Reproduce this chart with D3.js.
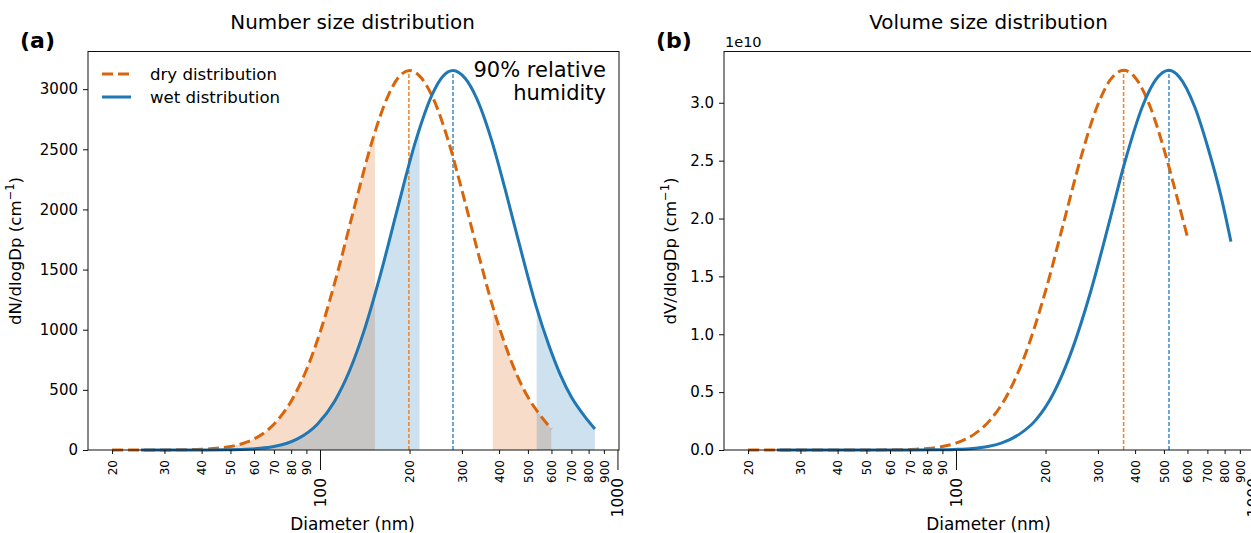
<!DOCTYPE html>
<html>
<head>
<meta charset="utf-8">
<script src="https://cdn.jsdelivr.net/npm/d3@7"></script>
<style>
  body { margin: 0; background: #fff; }
  text { font-family: "DejaVu Sans", sans-serif; fill: #000; }
</style>
</head>
<body>
<svg id="chart" width="1251" height="533"></svg>
<script>
// ---- data ----
const dryDiameter = [20, 25, 30, 35, 40, 45, 50, 55, 60, 70, 80, 90, 100, 115, 130, 150, 170, 185, 200, 220, 240, 270, 300, 340, 380, 420, 460, 500, 550, 600];
const dryNumber   = [0, 0.1, 0.5, 2, 6, 14, 29, 54, 92, 214, 406, 665, 976, 1492, 2003, 2574, 2953, 3108, 3155, 3088, 2925, 2570, 2160, 1640, 1200, 870, 620, 440, 290, 175];

const wetDiameter = [25, 35, 42, 49, 56, 63, 70, 77, 84, 98, 112, 126, 140, 161, 182, 210, 238, 259, 280, 308, 336, 378, 420, 476, 532, 588, 644, 700, 770, 840];
const wetNumber   = [0, 0.1, 0.5, 2, 6, 14, 29, 54, 92, 214, 406, 665, 976, 1492, 2003, 2574, 2953, 3108, 3155, 3088, 2925, 2570, 2160, 1640, 1200, 870, 620, 440, 290, 175];

const dryVolDiameter = [20, 30, 40, 50, 60, 70, 80, 90, 100, 115, 130, 150, 170, 200, 230, 260, 300, 330, 366, 400, 450, 500, 550, 600];
const dryVolume      = [0, 0, 0, 0.0003, 0.0014, 0.0049, 0.0133, 0.0303, 0.0596, 0.135, 0.256, 0.493, 0.809, 1.374, 1.962, 2.482, 2.985, 3.197, 3.28, 3.219, 2.963, 2.601, 2.21, 1.84];

const wetVolDiameter = [25, 43, 57, 71, 85, 99, 114, 128, 142, 163, 185, 213, 241, 284, 327, 369, 426, 469, 520, 565, 635, 705, 775, 840];
const wetVolume      = [0, 0, 0, 0.0003, 0.0014, 0.0049, 0.0133, 0.0303, 0.0596, 0.135, 0.256, 0.493, 0.809, 1.374, 1.962, 2.482, 2.985, 3.197, 3.28, 3.219, 2.963, 2.601, 2.21, 1.80];

const dryNumberMode = 199, wetNumberMode = 280;
const dryVolumeMode = 366, wetVolumeMode = 520;

// shaded diameter ranges (nm) in the number plot
const dryShade = [[20, 153], [381, 600]];
const wetShade = [[25, 216], [535, 840]];

const minorTicks  = [20, 30, 40, 50, 60, 70, 80, 90, 200, 300, 400, 500, 600, 700, 800, 900];
const majorTicks  = [100, 1000];
const numberTicks = [0, 500, 1000, 1500, 2000, 2500, 3000];
const volumeTicks = [0, 0.5, 1.0, 1.5, 2.0, 2.5, 3.0];

// ---- layout ----
const svg = d3.select("#chart");
const ORANGE = "#d9650a", BLUE = "#1f77b4";
const ORANGE_V = "#ec8a35", BLUE_V = "#4d93c8";
const plotTop = 51.5, plotBottom = 450, panelW = 531;

function drawPanel(opt) {
  const x = d3.scaleLog().domain([16.6, 1012]).range([opt.left, opt.left + panelW]);
  const y = d3.scaleLinear().domain([0, opt.yMax]).range([plotBottom, plotTop]);
  const g = svg.append("g");

  const dry = opt.dryD.map((d, i) => ({ d: d, v: opt.dryV[i] }));
  const wet = opt.wetD.map((d, i) => ({ d: d, v: opt.wetV[i] }));

  const line = d3.line().x(p => x(p.d)).y(p => y(p.v)).curve(d3.curveMonotoneX);
  const area = d3.area().x(p => x(p.d)).y0(y(0)).y1(p => y(p.v)).curve(d3.curveMonotoneX);

  // shaded tails
  if (opt.shade) {
    const defs = svg.append("defs");
    const shades = [
      { data: dry, ranges: dryShade, color: ORANGE, id: "dry" },
      { data: wet, ranges: wetShade, color: BLUE, id: "wet" }
    ];
    shades.forEach(s => {
      s.ranges.forEach((r, k) => {
        const id = "clip-" + s.id + k;
        defs.append("clipPath").attr("id", id)
          .append("rect")
          .attr("x", x(r[0])).attr("y", plotTop)
          .attr("width", x(r[1]) - x(r[0])).attr("height", plotBottom - plotTop);
        g.append("path")
          .datum(s.data)
          .attr("d", area)
          .attr("fill", s.color)
          .attr("fill-opacity", 0.22)
          .attr("clip-path", `url(#${id})`);
      });
    });
  }

  // mode lines
  [[opt.dryMode, d3.max(opt.dryV), ORANGE_V], [opt.wetMode, d3.max(opt.wetV), BLUE_V]].forEach(m => {
    g.append("line")
      .attr("x1", x(m[0])).attr("x2", x(m[0]))
      .attr("y1", y(0)).attr("y2", y(m[1]))
      .attr("stroke", m[2]).attr("stroke-width", 1.6)
      .attr("stroke-dasharray", "4,2");
  });

  g.append("path").datum(dry).attr("d", line)
    .attr("fill", "none").attr("stroke", ORANGE).attr("stroke-width", 3)
    .attr("stroke-dasharray", "11,5");
  g.append("path").datum(wet).attr("d", line)
    .attr("fill", "none").attr("stroke", BLUE).attr("stroke-width", 3);

  // frame
  g.append("rect")
    .attr("x", opt.left).attr("y", plotTop)
    .attr("width", panelW).attr("height", plotBottom - plotTop)
    .attr("fill", "none").attr("stroke", "#111").attr("stroke-width", 1);

  // x axis: minor labelled ticks
  const gxMinor = g.append("g").attr("transform", `translate(0,${plotBottom})`)
    .call(d3.axisBottom(x).tickValues(minorTicks).tickSize(4).tickFormat(d3.format("d")));
  gxMinor.select(".domain").remove();
  gxMinor.selectAll("text")
    .attr("transform", "rotate(-90)")
    .attr("x", -10).attr("y", 0).attr("dy", "0.35em")
    .style("text-anchor", "end").style("font-size", "12px");

  const gxMajor = g.append("g").attr("transform", `translate(0,${plotBottom})`)
    .call(d3.axisBottom(x).tickValues(majorTicks).tickSize(20).tickFormat(d3.format("d")));
  gxMajor.select(".domain").remove();
  gxMajor.selectAll("text")
    .attr("transform", "rotate(-90)")
    .attr("x", -28).attr("y", 0).attr("dy", "0.35em")
    .style("text-anchor", "end").style("font-size", "15.5px");

  // y axis
  const gy = g.append("g").attr("transform", `translate(${opt.left},0)`)
    .call(d3.axisLeft(y).tickValues(opt.yTicks).tickSize(5).tickPadding(5).tickFormat(opt.yFormat));
  gy.select(".domain").remove();
  gy.selectAll("text").style("font-size", "15px");
  g.selectAll(".tick line").attr("stroke", "#111");

  // labels
  svg.append("text")
    .attr("x", opt.left + panelW / 2 - 1).attr("y", 29)
    .attr("text-anchor", "middle").style("font-size", "19.9px")
    .text(opt.title);
  svg.append("text")
    .attr("x", opt.left - 68).attr("y", 48)
    .style("font-size", "22px").style("font-weight", "bold")
    .text(opt.tag);
  svg.append("text")
    .attr("x", opt.left + panelW / 2 - 1).attr("y", 530)
    .attr("text-anchor", "middle").style("font-size", "16.9px")
    .text("Diameter (nm)");

  const yl = svg.append("text")
    .attr("transform", `translate(${opt.left - opt.yLabelOff},251) rotate(-90)`)
    .attr("text-anchor", "middle").style("font-size", "16.6px");
  yl.append("tspan").text(opt.yLabel + " (cm");
  yl.append("tspan").attr("dy", -7).style("font-size", "11.5px").text("\u22121");
  yl.append("tspan").attr("dy", 7).text(")");

  return { x: x, y: y, g: g };
}

drawPanel({
  left: 88, yMax: 3313, yTicks: numberTicks, yFormat: d3.format("d"),
  dryD: dryDiameter, dryV: dryNumber, wetD: wetDiameter, wetV: wetNumber,
  dryMode: dryNumberMode, wetMode: wetNumberMode, shade: true,
  title: "Number size distribution", tag: "(a)", yLabel: "dN/dlogDp", yLabelOff: 67
});

drawPanel({
  left: 724, yMax: 3.443, yTicks: volumeTicks, yFormat: d3.format(".1f"),
  dryD: dryVolDiameter, dryV: dryVolume, wetD: wetVolDiameter, wetV: wetVolume,
  dryMode: dryVolumeMode, wetMode: wetVolumeMode, shade: false,
  title: "Volume size distribution", tag: "(b)", yLabel: "dV/dlogDp", yLabelOff: 48
});

// offset text of the volume axis
svg.append("text").attr("x", 725).attr("y", 47).style("font-size", "14.5px").text("1e10");

// legend in panel (a)
const lg = svg.append("g");
[["dry distribution", ORANGE, "11,5", 74], ["wet distribution", BLUE, null, 97]].forEach(r => {
  lg.append("line")
    .attr("x1", 102).attr("x2", 131).attr("y1", r[3]).attr("y2", r[3])
    .attr("stroke", r[1]).attr("stroke-width", 3)
    .attr("stroke-dasharray", r[2]);
  lg.append("text").attr("x", 150).attr("y", r[3] + 5.5)
    .style("font-size", "16.6px").text(r[0]);
});

// annotation
const ann = svg.append("text").attr("text-anchor", "end").style("font-size", "21px");
ann.append("tspan").attr("x", 606).attr("y", 77).text("90% relative");
ann.append("tspan").attr("x", 606).attr("y", 99.5).text("humidity");
</script>
</body>
</html>
